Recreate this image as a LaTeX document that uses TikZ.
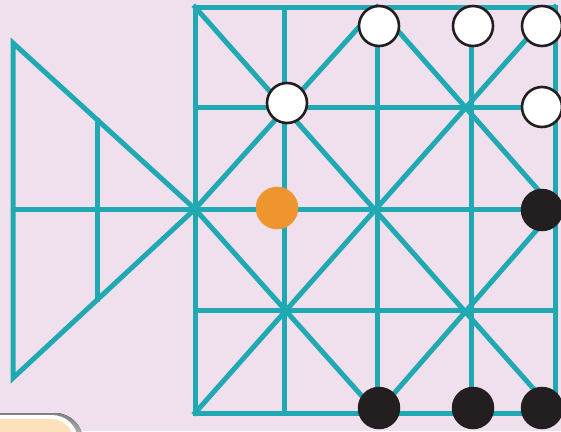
\documentclass[tikz,border=0pt]{standalone}
\usetikzlibrary{calc}
\definecolor{bg}{HTML}{F0E0EE}
\definecolor{tealc}{HTML}{20A9B2}
\definecolor{ink}{HTML}{231F20}
\definecolor{orng}{HTML}{EE952F}
\definecolor{cream}{HTML}{FDE1BA}
\definecolor{shade}{HTML}{E4D4E1}
\begin{document}
\begin{tikzpicture}[x=1pt,y=-1pt,
  gridline/.style={draw=tealc,line width=5pt,line join=miter,line cap=rect},
  wpiece/.style={circle,draw=ink,fill=white,line width=2.6pt,minimum size=40pt,inner sep=0pt},
  bpiece/.style={circle,fill=ink,minimum size=42.5pt,inner sep=0pt},
  opiece/.style={circle,fill=orng,minimum size=42.5pt,inner sep=0pt}]
\fill[bg] (0,0) rectangle (561,431);
\useasboundingbox (0,0) rectangle (561,431);
% cream box in the corner
\fill[shade,rounded corners=28pt] (-40,413) -- (83,413) -- (83,470) -- (-40,470) -- cycle;
\fill[white,rounded corners=26pt] (-40,415) -- (78,415) -- (78,470) -- (-40,470) -- cycle;
\fill[cream,rounded corners=23pt] (-40,419) -- (74,419) -- (74,470) -- (-40,470) -- cycle;
% grid points
\foreach \i/\x in {0/195,1/284,2/377,3/471,4/555}
  \foreach \j/\y in {0/7,1/107,2/209,3/310,4/413}
    \coordinate (p\i\j) at (\x,\y);
\coordinate (tA) at (13,43);
\coordinate (tB) at (13,378);
\coordinate (tM) at (13,209);
\coordinate (u1) at ($(tA)!0.467!(p02)$);
\coordinate (u2) at ($(tB)!0.467!(p02)$);
% board
\draw[gridline] (p00) rectangle (p44);
\foreach \j in {1,2,3} \draw[gridline] (p0\j) -- (p4\j);
\foreach \i in {1,2,3} \draw[gridline] (p\i0) -- (p\i4);
\draw[gridline] (p00) -- (p44);
\draw[gridline] (p40) -- (p04);
\draw[gridline] (p02) -- (p20) -- (p42) -- (p24) -- cycle;
% triangle
\draw[gridline] (tA) -- (p02) -- (tB) -- cycle;
\draw[gridline] (tM) -- (p02);
\draw[gridline] (u1) -- (u2);
% pieces
\node[wpiece] (w1) at (379,26) {};
\node[wpiece] (w2) at (473,26) {};
\node[wpiece] (w3) at (542,26) {};
\node[wpiece] (w4) at (287,103) {};
\node[wpiece] (w5) at (542,107) {};
\node[opiece] (o1) at (277,208) {};
\node[bpiece] (b1) at (542,210) {};
\node[bpiece] (b2) at (379,408) {};
\node[bpiece] (b3) at (473,408) {};
\node[bpiece] (b4) at (542,408) {};
\end{tikzpicture}
\end{document}
